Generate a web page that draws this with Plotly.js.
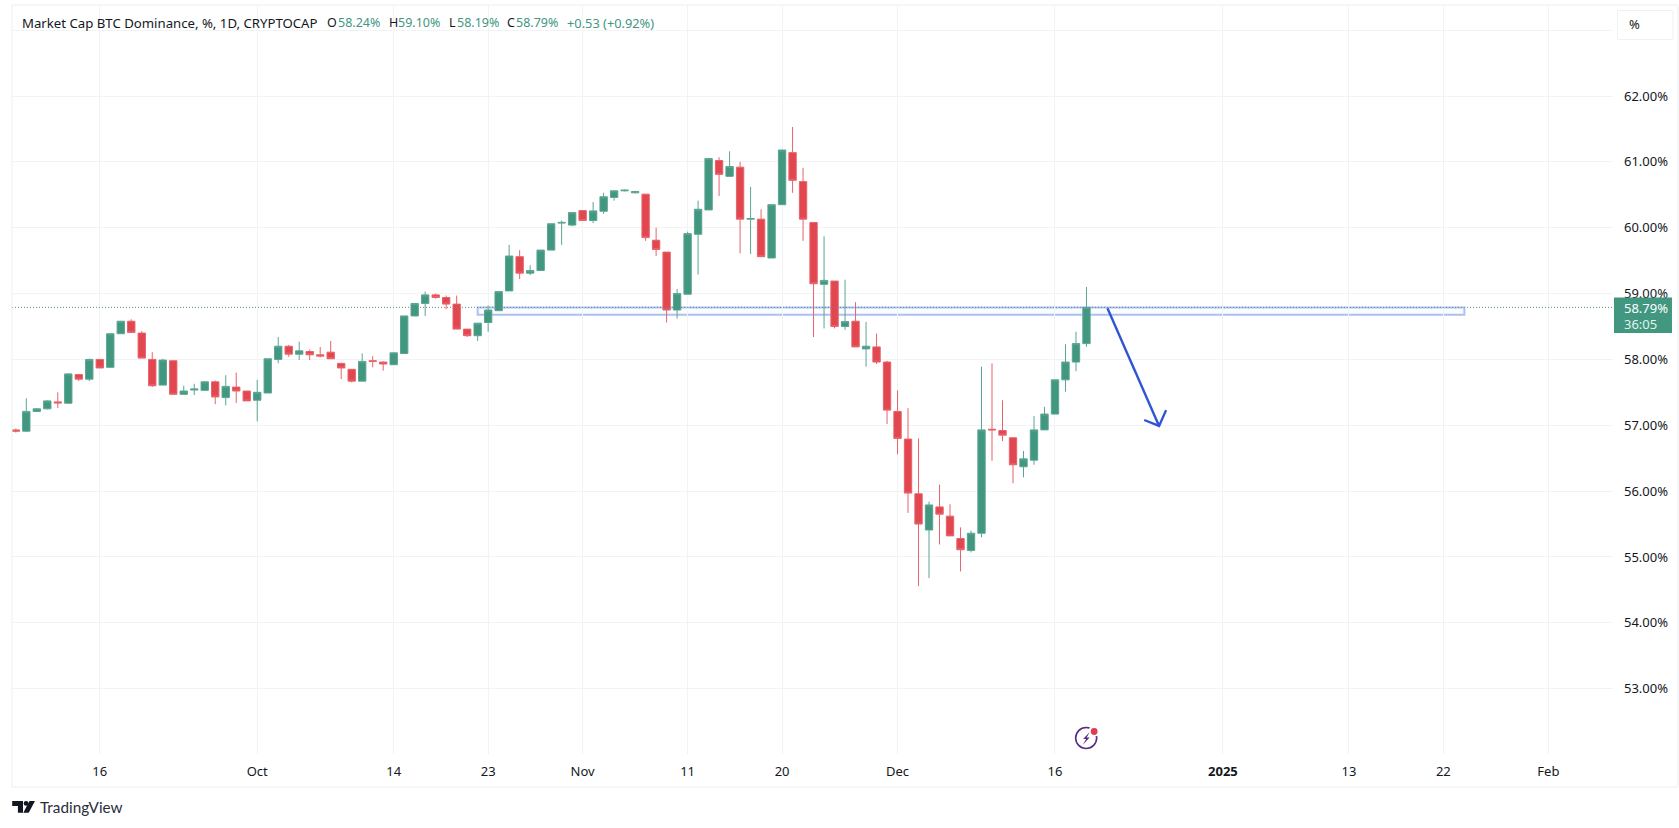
<!DOCTYPE html>
<html>
<head>
<meta charset="utf-8">
<script src="https://cdn.plot.ly/plotly-3.0.1.min.js"></script>
<style>html,body{margin:0;padding:0;background:#fff;overflow:hidden}#chart{width:1679px;height:828px}</style>
</head>
<body>
<div id="chart"></div>
<script>
const dates = [
"2024-09-08","2024-09-09","2024-09-10","2024-09-11","2024-09-12","2024-09-13","2024-09-14","2024-09-15","2024-09-16","2024-09-17","2024-09-18","2024-09-19","2024-09-20","2024-09-21","2024-09-22","2024-09-23","2024-09-24","2024-09-25","2024-09-26","2024-09-27","2024-09-28","2024-09-29","2024-09-30",
"2024-10-01","2024-10-02","2024-10-03","2024-10-04","2024-10-05","2024-10-06","2024-10-07","2024-10-08","2024-10-09","2024-10-10","2024-10-11","2024-10-12","2024-10-13","2024-10-14","2024-10-15","2024-10-16","2024-10-17","2024-10-18","2024-10-19","2024-10-20","2024-10-21","2024-10-22","2024-10-23","2024-10-24","2024-10-25","2024-10-26","2024-10-27","2024-10-28","2024-10-29","2024-10-30","2024-10-31",
"2024-11-01","2024-11-02","2024-11-03","2024-11-04","2024-11-05","2024-11-06","2024-11-07","2024-11-08","2024-11-09","2024-11-10","2024-11-11","2024-11-12","2024-11-13","2024-11-14","2024-11-15","2024-11-16","2024-11-17","2024-11-18","2024-11-19","2024-11-20","2024-11-21","2024-11-22","2024-11-23","2024-11-24","2024-11-25","2024-11-26","2024-11-27","2024-11-28","2024-11-29","2024-11-30",
"2024-12-01","2024-12-02","2024-12-03","2024-12-04","2024-12-05","2024-12-06","2024-12-07","2024-12-08","2024-12-09","2024-12-10","2024-12-11","2024-12-12","2024-12-13","2024-12-14","2024-12-15","2024-12-16","2024-12-17","2024-12-18","2024-12-19"];
const opens = [
56.93,56.91,57.21,57.25,57.355,57.335,57.77,57.70,58.00,57.88,58.39,58.58,58.40,58.00,57.61,57.98,57.47,57.535,57.53,57.66,57.42,57.58,57.52,
57.38,57.49,58.00,58.20,58.08,58.12,58.07,58.11,57.94,57.85,57.67,57.98,57.96,57.92,58.09,58.66,58.85,58.98,58.94,58.84,58.46,58.36,58.56,58.74,59.04,59.56,59.31,59.35,59.66,60.07,60.04,
60.26,60.11,60.25,60.46,60.56,60.53,60.51,59.81,59.63,58.75,58.99,59.90,60.27,61.02,60.78,60.92,60.13,60.13,59.54,60.35,61.14,60.70,60.08,59.14,59.19,58.50,58.58,58.16,58.19,57.96,
57.21,56.79,55.96,55.41,55.76,55.62,55.28,55.10,55.36,56.94,56.92,56.81,56.37,56.47,56.93,57.17,57.69,57.96,58.24];
const highs = [
56.95,57.41,57.26,57.38,57.50,57.79,57.78,58.01,58.00,58.39,58.58,58.61,58.43,58.11,58.01,57.98,57.60,57.63,57.66,57.68,57.76,57.80,57.52,
57.69,58.01,58.34,58.22,58.27,58.15,58.19,58.28,57.94,57.85,58.09,58.05,57.97,58.10,58.66,58.85,59.03,59.00,58.97,58.97,58.46,58.55,58.82,59.03,59.74,59.66,59.43,59.66,60.06,60.11,60.23,
60.26,60.39,60.53,60.56,60.58,60.56,60.51,60.00,59.63,59.07,59.94,60.41,61.05,61.07,61.16,61.00,60.62,60.28,60.35,61.18,61.53,60.91,60.08,59.87,59.19,59.21,58.87,58.57,58.39,57.98,
57.53,57.26,56.80,55.84,56.10,55.80,55.45,55.40,57.89,57.94,57.38,56.81,56.61,57.14,57.28,57.69,58.23,58.42,59.10];
const lows = [
56.89,56.90,57.21,57.24,57.26,57.33,57.67,57.67,57.87,57.88,58.39,58.40,58.02,57.58,57.61,57.47,57.47,57.46,57.53,57.32,57.30,57.34,57.37,
57.06,57.49,57.94,58.04,57.99,57.99,58.03,58.01,57.70,57.65,57.67,57.88,57.83,57.92,58.09,58.66,58.66,58.92,58.76,58.46,58.34,58.28,58.42,58.74,59.04,59.22,59.28,59.35,59.66,59.74,60.02,
60.11,60.07,60.21,60.41,60.55,60.52,59.80,59.57,58.56,58.62,58.99,59.29,60.27,60.48,60.78,59.61,59.60,59.56,59.54,60.35,60.53,59.80,58.34,58.47,58.47,58.45,58.19,57.89,57.93,57.02,
56.56,55.67,54.56,54.68,55.19,55.32,54.78,55.07,55.30,56.46,56.76,56.12,56.21,56.40,56.93,57.17,57.51,57.82,58.19];
const closes = [
56.91,57.21,57.25,57.37,57.34,57.78,57.70,58.00,57.87,58.39,58.58,58.41,58.02,57.60,57.99,57.47,57.52,57.55,57.66,57.43,57.59,57.52,57.37,
57.50,58.01,58.20,58.08,58.13,58.07,58.05,58.01,57.87,57.67,57.97,57.97,57.93,58.10,58.66,58.85,58.98,58.94,58.84,58.46,58.36,58.55,58.75,59.03,59.57,59.31,59.35,59.66,60.06,60.08,60.23,
60.11,60.255,60.47,60.56,60.57,60.55,59.85,59.67,58.75,59.00,59.91,60.28,61.05,60.81,60.93,60.13,60.14,59.56,60.35,61.18,60.72,60.13,59.15,59.20,58.50,58.575,58.19,58.20,57.96,57.23,
56.80,55.97,55.50,55.79,55.65,55.32,55.11,55.36,56.93,56.93,56.85,56.40,56.49,56.93,57.17,57.69,57.96,58.24,58.79];

const xTickVals = ["2024-09-16","2024-10-01","2024-10-14","2024-10-23","2024-11-01","2024-11-11","2024-11-20","2024-12-01","2024-12-16","2025-01-01","2025-01-13","2025-01-22","2025-02-01"];
const xTickText = ["16","Oct","14","23","Nov","11","20","Dec","16","<b>2025</b>","13","22","Feb"];
const yTickVals = [53,54,55,56,57,58,59,60,61,62,63];
const yTickText = ["53.00%","54.00%","55.00%","56.00%","57.00%","58.00%","59.00%","60.00%","61.00%","62.00%",""];

const arrowX = ["2024-12-21 00:00","2024-12-25 22:00",null,"2024-12-24 12:00","2024-12-25 22:00","2024-12-26 14:00"];
const arrowY = [58.776,56.99,null,57.08,56.99,57.23];
const zoneX = ["2024-10-22","2025-01-24"];
const zoneY = [58.68,58.79];
const lastPrice = 58.79;
const xRange = ["2024-09-07 15:19","2025-02-07 03:50"];
const yRange = [52.008,63.382];

const UP = "#41977f", DOWN = "#e2464f", UPWICK = "#5aa592", DOWNWICK = "#e7636b", INK = "#131722";
const FONT = "Noto Sans, sans-serif";

// frame geometry in page pixels
const L = 11.5, R = 1613, T = 5, B = 754;
const px = x => (x - L) / (R - L);
const py = y => 1 - (y - T) / (B - T);
const P = (x, y) => px(x) + " " + py(y);
const poly = pts => "M" + pts.map(p => P(p[0], p[1])).join(" L") + " Z";
const box = (x0, y0, x1, y1, extra) => Object.assign({type:"rect", xref:"paper", yref:"paper", x0:px(x0), x1:px(x1), y0:py(y0), y1:py(y1), layer:"above", line:{width:0}}, extra);
const circ = (cx, cy, r, extra) => Object.assign({type:"circle", xref:"paper", yref:"paper", x0:px(cx-r), x1:px(cx+r), y0:py(cy+r), y1:py(cy-r), layer:"above"}, extra);
const label = (x, y, text, size, color, family) => ({xref:"paper", yref:"paper", x:px(x), y:py(y), text, showarrow:false, xanchor:"left", yanchor:"middle", align:"left", font:{family:family||FONT, size, color}, borderpad:0});

const traces = [
  {type:"candlestick", x:dates, open:opens, high:highs, low:lows, close:closes,
   increasing:{line:{color:UPWICK,width:1}, fillcolor:UP},
   decreasing:{line:{color:DOWNWICK,width:1}, fillcolor:DOWN},
   whiskerwidth:0, showlegend:false, hoverinfo:"x"},
  {type:"scatter", mode:"lines", x:arrowX, y:arrowY, line:{color:"#2f55d4", width:2.4}, connectgaps:false, showlegend:false, hoverinfo:"skip"}
];

const shapes = [
  {type:"rect", xref:"x", yref:"y", x0:zoneX[0], x1:zoneX[1], y0:zoneY[0], y1:zoneY[1], layer:"below", line:{color:"#adc0f0", width:2}, fillcolor:"rgba(181,198,241,0.06)"},
  {type:"line", xref:"paper", yref:"y", x0:0, x1:1, y0:lastPrice, y1:lastPrice, layer:"above", line:{color:"#5f8f88", width:1, dash:"1px,2px"}},
  box(L, T, 1678, 787, {fillcolor:"rgba(0,0,0,0)", line:{color:"#eceef1", width:1}}),
  box(1617.5, 10.5, 1673, 39.5, {fillcolor:"#ffffff", line:{color:"#eff1f3", width:1}}),
  box(1614, 297.5, 1672, 333, {fillcolor:UP}),
  circ(1086, 738, 10.5, {line:{color:"#5b2a86", width:1.6}, fillcolor:"#ffffff"}),
  circ(1094, 731, 5.5, {line:{width:0}, fillcolor:"#ffffff"}),
  circ(1094, 731.5, 3.4, {line:{width:0}, fillcolor:"#dc3d4a"}),
  {type:"path", xref:"paper", yref:"paper", layer:"above", line:{width:0}, fillcolor:"#5b2a86",
   path: poly([[1089.5,732],[1083,739],[1086,739],[1082.5,745],[1089.5,737.5],[1086.5,737.5]])},
  {type:"path", xref:"paper", yref:"paper", layer:"above", line:{width:0}, fillcolor:"#131722",
   path: poly([[11.7,801],[22.5,801],[22.5,812.7],[17.4,812.7],[17.4,806],[11.7,806]])},
  circ(25.6, 803.4, 2.4, {line:{width:0}, fillcolor:"#131722"}),
  {type:"path", xref:"paper", yref:"paper", layer:"above", line:{width:0}, fillcolor:"#131722",
   path: poly([[29,801],[34.5,801],[28.2,812.7],[22.8,812.7]])}
];

const annotations = [
  label(21, 23, "Market Cap BTC Dominance, %, 1D, CRYPTOCAP", 13.2, INK),
  label(326, 23, "O", 12.5, INK),
  label(337, 23, "58.24%", 12.5, UP),
  label(388, 23, "H", 12.5, INK),
  label(397, 23, "59.10%", 12.5, UP),
  label(448, 23, "L", 12.5, INK),
  label(456, 23, "58.19%", 12.5, UP),
  label(506, 23, "C", 12.5, INK),
  label(515, 23, "58.79%", 12.5, UP),
  label(566, 23, "+0.53 (+0.92%)", 12.8, UP),
  label(1628, 24.5, "%", 13, INK),
  label(1623, 308, "58.79%", 13, "#ffffff"),
  label(1623, 324, "36:05", 13, "#e4f2ee"),
  label(39, 807, "TradingView", 15.3, "#2a2e39", "Lato, sans-serif")
];

const layout = {
  width:1679, height:828,
  margin:{l:L, r:1679-R, t:T, b:828-B, pad:0},
  paper_bgcolor:"#ffffff", plot_bgcolor:"#ffffff",
  font:{family:FONT, size:13, color:INK},
  showlegend:false, dragmode:false, boxgap:0.3, boxgroupgap:0,
  xaxis:{type:"date", range:xRange, rangeslider:{visible:false}, tickmode:"array", tickvals:xTickVals, ticktext:xTickText,
         ticks:"", showgrid:true, gridcolor:"#f2f3f5", gridwidth:1, zeroline:false, showline:false, ticklabelstandoff:8, tickangle:0, tickfont:{family:FONT,size:13,color:INK}},
  yaxis:{side:"right", range:yRange, tickmode:"array", tickvals:yTickVals, ticktext:yTickText,
         ticks:"", showgrid:true, gridcolor:"#f2f3f5", gridwidth:1, zeroline:false, showline:false, ticklabelstandoff:10, tickfont:{family:FONT,size:13,color:INK}},
  shapes, annotations
};

Plotly.newPlot("chart", traces, layout, {displayModeBar:false, staticPlot:true});
</script>
</body>
</html>
